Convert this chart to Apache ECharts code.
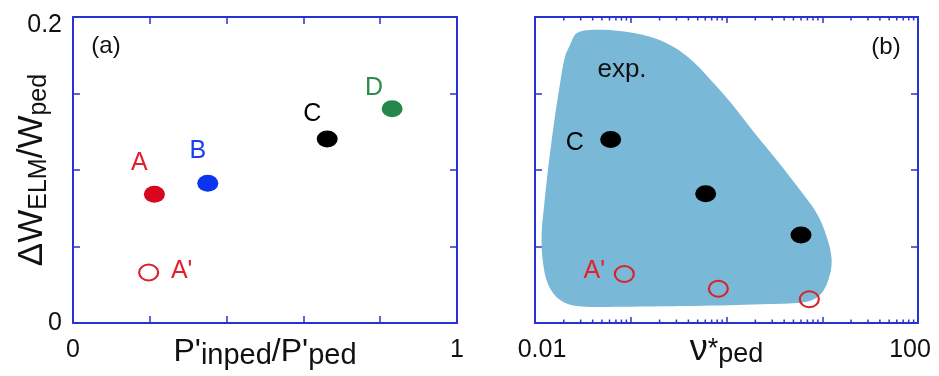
<!DOCTYPE html>
<html><head><meta charset="utf-8">
<script src="https://cdn.jsdelivr.net/npm/echarts@6/dist/echarts.min.js"></script>
<style>html,body{margin:0;padding:0;background:#fff}#c{width:939px;height:376px}</style>
</head><body><div id="c"></div>
<script>
// ---------- Panel (a) data ----------
const aNames = ['A', 'B', 'C', 'D'];
const aX = [0.212, 0.351, 0.662, 0.831];
const aY = [0.0842, 0.0913, 0.1203, 0.1401];
const aOpenNames = ["A'"];
const aOpenX = [0.197];
const aOpenY = [0.033];
const aXTickLabels = [0, 1];
const aYTickLabels = [0, 0.2];

// ---------- Panel (b) data ----------
const bNames = ['C', '', ''];
const bX = [0.0617, 0.606, 6.0];
const bY = [0.1200, 0.0845, 0.0575];
const bOpenNames = ["A'", '', ''];
const bOpenX = [0.0857, 0.822, 7.33];
const bOpenY = [0.0320, 0.0224, 0.0155];
const bXTickLabels = [0.01, 100];
// outline of the experimental region "exp."
const expX = [0.0232, 0.0272, 0.0375, 0.0772, 0.159, 0.278, 0.450, 0.790, 1.277, 1.906, 3.342, 5.857, 8.744, 11.12, 12.54, 11.57, 9.474, 6.875, 2.847, 0.573, 0.0772, 0.0272, 0.01825, 0.01378, 0.01203, 0.01174, 0.01242, 0.01378, 0.01579, 0.01825, 0.02058];
const expY = [0.1817, 0.1893, 0.1915, 0.1908, 0.1871, 0.1806, 0.1708, 0.1545, 0.1392, 0.1251, 0.1065, 0.0869, 0.0717, 0.0564, 0.0412, 0.0281, 0.0183, 0.0139, 0.0124, 0.0113, 0.0107, 0.0111, 0.0150, 0.0248, 0.0412, 0.0586, 0.0760, 0.1022, 0.1305, 0.1566, 0.1741];

// ---------- styles ----------
const FONT = 'Liberation Sans, Arial, sans-serif';
const AXIS = '#2832d2';
const aColors = ['#d8061e', '#0b34f2', '#000000', '#24884b'];
const aLabelColors = ['#e3202b', '#1a40f0', '#000000', '#2d8a4e'];
const aLabelOffsets = [[-15, -31], [-10, -32], [-15, -25], [-18, -21]];
const bLabelOffsets = [[-36, 4], [0, 0], [0, 0]];
const bOpenLabelOffsets = [[-30, -3], [0, 0], [0, 0]];
const RED = '#d9212b';

function near(a, b) { return Math.abs(a - b) < 1e-9; }

function valAxis(gridIndex, pos, min, max, interval, showLabel, extra) {
  return Object.assign({
    type: 'value', gridIndex, position: pos, min, max, interval,
    nameMoveOverlap: false,
    axisLine: { show: true, onZero: false, lineStyle: { color: AXIS, width: 2 } },
    axisTick: { show: true, inside: true, length: 7, lineStyle: { color: AXIS, width: 1.5 } },
    splitLine: { show: false },
    axisLabel: { show: showLabel },
  }, extra || {});
}
function logAxis(pos, showLabel) {
  return {
    type: 'log', logBase: 10, gridIndex: 1, position: pos, min: 0.01, max: 100,
    nameMoveOverlap: false,
    axisLine: { show: true, onZero: false, lineStyle: { color: AXIS, width: 2 } },
    axisTick: { show: true, inside: true, length: 6, lineStyle: { color: AXIS, width: 1.5 } },
    splitLine: { show: false },
    axisLabel: showLabel ? {
      show: true, margin: 15, color: '#111', fontFamily: FONT, fontSize: 25,
      formatter: v => {
        if (near(Math.log10(v), Math.log10(bXTickLabels[0]))) return '{l|' + bXTickLabels[0] + '}';
        if (near(Math.log10(v), Math.log10(bXTickLabels[1]))) return '{r|' + bXTickLabels[1] + '}';
        return '';
      },
      rich: { l: { fontSize: 25, fontFamily: FONT, color: '#111', padding: [0, 0, 0, 14] },
              r: { fontSize: 25, fontFamily: FONT, color: '#111', padding: [0, 16, 0, 0] } }
    } : { show: false }
  };
}

const minorVals = [];
[0.01, 0.1, 1, 10].forEach(d => { for (let k = 2; k <= 9; k++) minorVals.push(+(k * d).toPrecision(6)); });

const option = {
  animation: false,
  backgroundColor: '#fff',
  grid: [
    { left: 73, top: 17, width: 384, height: 306, show: false, containLabel: false, outerBoundsMode: 'none' },
    { left: 535, top: 17, width: 383, height: 306, show: false, containLabel: false, outerBoundsMode: 'none' }
  ],
  xAxis: [
    valAxis(0, 'bottom', 0, 1, 0.2, true, {
      axisLabel: {
        show: true, margin: 15, color: '#111', fontFamily: FONT, fontSize: 25,
        formatter: v => aXTickLabels.some(t => near(t, v)) ? String(v) : ''
      },
      name: "{m|P'}{s|inped}{m|/P'}{s|ped}",
      nameLocation: 'middle', nameGap: 11,
      nameTextStyle: {
        color: '#111', fontFamily: FONT,
        rich: {
          m: { fontSize: 32, lineHeight: 36, fontFamily: FONT, color: '#111', verticalAlign: 'middle' },
          s: { fontSize: 29, lineHeight: 28, fontFamily: FONT, color: '#111', verticalAlign: 'bottom' }
        }
      }
    }),
    valAxis(0, 'top', 0, 1, 0.2, false),
    Object.assign(logAxis('bottom', true), {
      name: '{n|ν}{m|*}{s|ped}',
      nameLocation: 'middle', nameGap: 9,
      nameTextStyle: {
        color: '#111', fontFamily: FONT,
        rich: {
          n: { fontSize: 36, lineHeight: 36, fontFamily: FONT, color: '#111', verticalAlign: 'middle' },
          m: { fontSize: 27, lineHeight: 36, fontFamily: FONT, color: '#111', verticalAlign: 'middle' },
          s: { fontSize: 27, lineHeight: 31, fontFamily: FONT, color: '#111', verticalAlign: 'bottom' }
        }
      }
    }),
    logAxis('top', false)
  ],
  yAxis: [
    valAxis(0, 'left', 0, 0.2, 0.05, true, {
      axisLabel: {
        show: true, margin: 11, color: '#111', fontFamily: FONT, fontSize: 25,
        formatter: v => {
          if (near(v, aYTickLabels[0])) return '{b|' + aYTickLabels[0] + '}';
          if (near(v, aYTickLabels[1])) return '{t|' + aYTickLabels[1] + '}';
          return '';
        },
        rich: { b: { fontSize: 25, fontFamily: FONT, color: '#111' },
                t: { fontSize: 25, fontFamily: FONT, color: '#111', padding: [16, 0, 0, 0] } }
      },
      name: '{m|ΔW}{s|ELM}{m|/W}{p|ped}',
      nameLocation: 'middle', nameGap: 21,
      nameTextStyle: {
        color: '#111', fontFamily: FONT,
        rich: {
          m: { fontSize: 35, lineHeight: 39, fontFamily: FONT, color: '#111', verticalAlign: 'middle' },
          s: { fontSize: 25, lineHeight: 25, fontFamily: FONT, color: '#111', verticalAlign: 'bottom' },
          p: { fontSize: 25, lineHeight: 33, fontFamily: FONT, color: '#111', verticalAlign: 'bottom' }
        }
      }
    }),
    valAxis(0, 'right', 0, 0.2, 0.05, false),
    valAxis(1, 'left', 0, 0.2, 0.05, false),
    valAxis(1, 'right', 0, 0.2, 0.05, false)
  ],
  graphic: [
    { type: 'text', x: 106, y: 46, style: { text: '(a)', font: '24px ' + FONT, fill: '#111', align: 'center', verticalAlign: 'middle' } },
    { type: 'text', x: 886, y: 47, style: { text: '(b)', font: '24px ' + FONT, fill: '#111', align: 'center', verticalAlign: 'middle' } }
  ],
  series: [
    // experimental region
    {
      type: 'custom', xAxisIndex: 2, yAxisIndex: 2, z: 1, clip: false, silent: true,
      data: [[expX[0], expY[0]]],
      renderItem: (params, api) => {
        const pts = expX.map((x, i) => api.coord([x, expY[i]]));
        const c = api.coord([0.081, 0.1654]);
        return {
          type: 'group', children: [
            { type: 'polygon', shape: { points: pts, smooth: 0.35 }, style: { fill: '#79b8d6' } },
            { type: 'text', x: c[0], y: c[1], style: { text: 'exp.', font: '26px ' + FONT, fill: '#111', align: 'center', verticalAlign: 'middle' } }
          ]
        };
      }
    },
    // minor log ticks
    {
      type: 'custom', xAxisIndex: 2, yAxisIndex: 2, z: 3, clip: false, silent: true,
      data: minorVals.map(v => [v, 0]),
      renderItem: (params, api) => {
        const v = api.value(0);
        const b = api.coord([v, 0]);
        const t = api.coord([v, 0.2]);
        return {
          type: 'group', children: [
            { type: 'line', shape: { x1: b[0], y1: b[1], x2: b[0], y2: b[1] - 3.5 }, style: { stroke: AXIS, lineWidth: 1.5 } },
            { type: 'line', shape: { x1: t[0], y1: t[1], x2: t[0], y2: t[1] + 3.5 }, style: { stroke: AXIS, lineWidth: 1.5 } }
          ]
        };
      }
    },
    // panel (a) filled
    {
      type: 'scatter', xAxisIndex: 0, yAxisIndex: 0, symbol: 'circle', symbolSize: [21, 17], z: 5,
      emphasis: { disabled: true },
      itemStyle: { opacity: 1 },
      data: aX.map((x, i) => ({
        value: [x, aY[i]], itemStyle: { color: aColors[i], opacity: 1 },
        label: { show: true, position: 'inside', formatter: aNames[i], color: aLabelColors[i], offset: aLabelOffsets[i], fontSize: 25, fontFamily: FONT }
      }))
    },
    // panel (a) open
    {
      type: 'scatter', xAxisIndex: 0, yAxisIndex: 0, symbol: 'circle', symbolSize: [19, 16], z: 5,
      emphasis: { disabled: true },
      itemStyle: { color: 'rgba(0,0,0,0)', borderColor: RED, borderWidth: 2, opacity: 1 },
      data: aOpenX.map((x, i) => ({
        value: [x, aOpenY[i]],
        label: { show: true, position: 'inside', formatter: aOpenNames[i], color: '#e3202b', offset: [33, -1], fontSize: 25, fontFamily: FONT }
      }))
    },
    // panel (b) filled
    {
      type: 'scatter', xAxisIndex: 2, yAxisIndex: 2, symbol: 'circle', symbolSize: [21, 17], z: 5,
      emphasis: { disabled: true },
      itemStyle: { color: '#000', opacity: 1 },
      data: bX.map((x, i) => ({
        value: [x, bY[i]],
        label: { show: !!bNames[i], position: 'inside', formatter: bNames[i], color: '#000', offset: bLabelOffsets[i], fontSize: 25, fontFamily: FONT }
      }))
    },
    // panel (b) open
    {
      type: 'scatter', xAxisIndex: 2, yAxisIndex: 2, symbol: 'circle', symbolSize: [19, 16], z: 5,
      emphasis: { disabled: true },
      itemStyle: { color: 'rgba(0,0,0,0)', borderColor: RED, borderWidth: 2, opacity: 1 },
      data: bOpenX.map((x, i) => ({
        value: [x, bOpenY[i]],
        label: { show: !!bOpenNames[i], position: 'inside', formatter: bOpenNames[i], color: '#e3202b', offset: bOpenLabelOffsets[i], fontSize: 25, fontFamily: FONT }
      }))
    }
  ]
};

const chart = echarts.init(document.getElementById('c'), null, { renderer: 'canvas' });
chart.setOption(option);
</script>
</body></html>
